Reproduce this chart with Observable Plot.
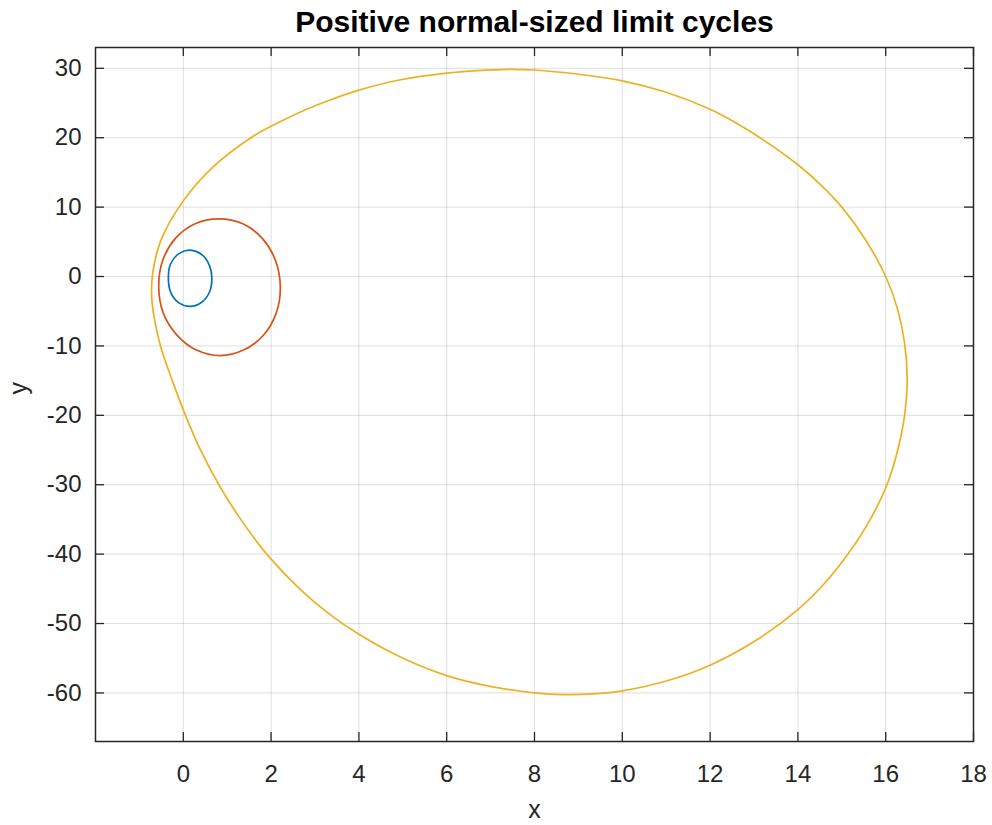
<!DOCTYPE html>
<html>
<head>
<meta charset="utf-8">
<script src="https://cdn.jsdelivr.net/npm/d3@7"></script>
<script src="https://cdn.jsdelivr.net/npm/@observablehq/plot@0.6"></script>
<style>
  html, body { margin: 0; padding: 0; background: #fff; }
  #chart svg { display: block; }
</style>
</head>
<body>
<div id="chart"></div>
<script>
// Three limit cycles in the (x, y) phase plane, traced clockwise.
const smallX = [0.15, 0.45, 0.60, 0.65, 0.60, 0.42, 0.16, -0.10, -0.28, -0.34, -0.29, -0.10];
const smallY = [3.8, 3.0, 1.5, -0.2, -2.2, -3.7, -4.3, -3.8, -2.4, -0.2, 1.8, 3.3];

const mediumX = [0.80, 1.355, 1.80, 2.10, 2.21, 2.12, 1.82, 1.37, 0.84, 0.30, -0.15, -0.46, -0.56, -0.47, -0.18, 0.27];
const mediumY = [8.3, 7.6, 5.5, 2.3, -1.5, -5.2, -8.5, -10.6, -11.4, -10.6, -8.4, -5.2, -1.4, 2.3, 5.5, 7.6];

const largeX = [
  7.40, 8.00, 9.00, 10.0, 11.0, 12.0, 12.58, 13.14, 14.0, 14.52, 15.0, 15.55, 16.0,
  16.27, 16.43, 16.49, 16.43, 16.27, 16.03, 15.63, 15.14, 14.61, 14.0, 13.04, 12.0,
  11.02, 10.0, 9.33, 8.66, 8.0, 6.99, 6.0, 4.97, 4.0, 3.32, 2.68, 1.9, 1.32, 0.81,
  0.40, 0.05, -0.25, -0.52, -0.66, -0.72, -0.70, -0.51, 0.0, 0.68, 1.54, 2.0, 2.68,
  3.33, 4.0, 4.95, 6.0, 6.70
];
const largeY = [
  29.86, 29.76, 29.15, 28.2, 26.55, 24.1, 22.17, 20.0, 16.1, 13.2, 10.0, 5.2, 0.0,
  -4.7, -9.6, -14.65, -20.0, -25.1, -30.0, -35.2, -40.0, -44.2, -48.0, -52.45, -56.0,
  -58.25, -59.7, -60.15, -60.25, -60.0, -59.05, -57.5, -54.9, -51.55, -48.6, -45.2, -40.0, -35.1, -30.0,
  -25.1, -20.0, -15.0, -10.0, -6.0, -3.0, 0.3, 5.2, 10.9, 15.8, 20.0, 21.65, 23.75,
  25.4, 26.85, 28.35, 29.3, 29.67
];

const cycleColors = ["#0072BD", "#D95319", "#EDB120"];

const xTicks = [0, 2, 4, 6, 8, 10, 12, 14, 16, 18];
const yTicks = [-60, -50, -40, -30, -20, -10, 0, 10, 20, 30];

const titleText = "Positive normal-sized limit cycles";
const xLabel = "x";
const yLabel = "y";

const toPoints = (xs, ys) => xs.map((x, i) => ({x, y: ys[i]}));
const cycles = [toPoints(smallX, smallY), toPoints(mediumX, mediumY), toPoints(largeX, largeY)];

const W = 992, H = 825;
const mL = 95, mR = 19, mT = 47, mB = 84;
const frameW = W - mL - mR, frameH = H - mT - mB;
const tickLen = 9;
const ink = "#262626";
const font = "'Liberation Sans', Arial, Helvetica, sans-serif";

const chart = Plot.plot({
  width: W,
  height: H,
  marginLeft: mL,
  marginRight: mR,
  marginTop: mT,
  marginBottom: mB,
  style: {fontFamily: font, color: ink, background: "#fff"},
  x: {domain: [-2, 18]},
  y: {domain: [-67, 33]},
  marks: [
    Plot.gridX(xTicks, {stroke: ink, strokeOpacity: 0.15, strokeWidth: 1}),
    Plot.gridY(yTicks, {stroke: ink, strokeOpacity: 0.15, strokeWidth: 1}),
    ...cycles.map((pts, i) => Plot.line(pts, {
      x: "x", y: "y", curve: "catmull-rom-closed",
      stroke: cycleColors[i], strokeWidth: 1.7
    })),
    // inward ticks on all four sides of the box
    Plot.tickX(xTicks, {x: d => d, insetTop: frameH - tickLen, stroke: ink, strokeWidth: 1.3}),
    Plot.tickX(xTicks, {x: d => d, insetBottom: frameH - tickLen, stroke: ink, strokeWidth: 1.3}),
    Plot.tickY(yTicks, {y: d => d, insetRight: frameW - tickLen, stroke: ink, strokeWidth: 1.3}),
    Plot.tickY(yTicks, {y: d => d, insetLeft: frameW - tickLen, stroke: ink, strokeWidth: 1.3}),
    Plot.frame({stroke: ink, strokeWidth: 1.5}),
    Plot.axisX(xTicks, {tickSize: 0, tickPadding: 23, fontSize: 24, fill: ink, label: null, tickFormat: d => String(d)}),
    Plot.axisY(yTicks, {tickSize: 0, tickPadding: 14, fontSize: 24, fill: ink, label: null, tickFormat: d => String(d)}),
    Plot.text([titleText], {
      text: d => d, frameAnchor: "top", dy: -25, lineAnchor: "middle",
      fontSize: 30, fontWeight: "bold", fill: "#000"
    }),
    Plot.text([xLabel], {
      text: d => d, frameAnchor: "bottom", dy: 68, lineAnchor: "middle",
      fontSize: 25, fill: ink
    }),
    Plot.text([yLabel], {
      text: d => d, frameAnchor: "left", dx: -77, rotate: -90, lineAnchor: "middle",
      fontSize: 25, fill: ink
    })
  ]
});

document.getElementById("chart").appendChild(chart);
</script>
</body>
</html>
